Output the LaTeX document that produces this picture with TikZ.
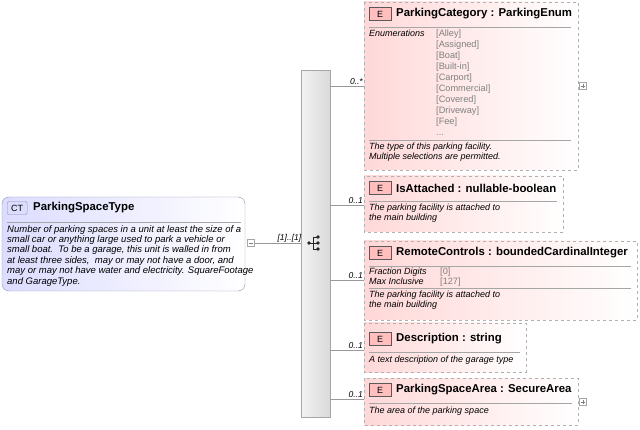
\documentclass[tikz,border=0pt]{standalone}
\usepackage{fontspec}
\setmainfont{Liberation Sans}
\definecolor{ebord}{HTML}{B0B0B0}
\definecolor{ebg}{HTML}{FFD8D8}
\definecolor{ctbg}{HTML}{DCDCFF}
\definecolor{ctb}{HTML}{9090B8}
\definecolor{gtx}{HTML}{808080}
\begin{document}
\begin{tikzpicture}[x=1pt,y=-1pt,
 elem/.style={draw=ebord,dashed,left color=ebg,right color=white,shading angle=90},
 ebadge/.style={draw=gray!70!black,fill=red!25,inner sep=1pt,minimum width=22,minimum height=13,font=\fontsize{9}{10}\selectfont,anchor=west},
 ttl/.style={font=\bfseries\fontsize{11.4}{13}\selectfont,anchor=west,inner sep=0},
 desc/.style={font=\itshape\fontsize{9}{9.6}\selectfont,anchor=north west,inner sep=0,align=left},
 enm/.style={font=\fontsize{9.2}{11}\selectfont,text=gtx,anchor=north west,inner sep=0,align=left},
 card/.style={font=\itshape\fontsize{8.5}{9}\selectfont,anchor=south east,inner sep=1pt},
 conn/.style={draw=gray!80},
 sep/.style={draw=gray!70},
 pm/.style={draw=gray!70,fill=white,minimum size=7,inner sep=0}
]
\useasboundingbox (0,0) rectangle (640,430);
% CT
\draw[draw=ctb,rounded corners=7,left color=ctbg,right color=white] (2,197) rectangle (245,291);
\node[draw=ctb,fill=ctbg,rounded corners=2,inner sep=1pt,minimum width=20,minimum height=13,font=\fontsize{9}{10}\selectfont,anchor=west] (ctb) at (7,208) {CT};
\node[ttl] (ctt) at (33,208) {ParkingSpaceType};
\draw[sep] (7,222) -- (241,222);
\node[desc,font=\itshape\fontsize{9.5}{10.4}\selectfont] (ctd) at (7,225) {Number of parking spaces in a unit at least the size of a\\small car or anything large used to park a vehicle or\\small boat.\ \ To be a garage, this unit is walled in from\\at least three sides,\ \ may or may not have a door, and\\may or may not have water and electricity. SquareFootage\\and GarageType.};
\node[pm] (minus) at (251,243) {};
\draw[gray] (249,243) -- (253,243);
% bar
\node[draw=gray!70,left color=gray!10,right color=gray!30,minimum width=29,minimum height=347,inner sep=0,anchor=north west] (bar) at (301,70) {};
\coordinate (barin) at (301,243);
\draw[conn] (minus) -- node[card,above,pos=0.75,anchor=south]{[1]..[1]} (barin);
% sequence icon
\fill[gray!30!black] (309,243) circle (1.8);
\draw[gray!30!black] (309,243) -- (313,243) (313,237) -- (313,249) (313,237)--(318,237) (313,243)--(318,243) (313,249)--(318,249);
\fill[gray!30!black] (318,237) circle (1.8) (318,243) circle (1.8) (318,249) circle (1.8);
% element boxes
\draw[elem] (364,2) rectangle (578,170);
\draw[elem] (364,176) rectangle (563,232);
\draw[elem] (364,241) rectangle (637,320);
\draw[elem] (364,323) rectangle (526,372);
\draw[elem] (364,378) rectangle (578,425);
\coordinate (e1) at (364,86); \coordinate (e2) at (364,205); \coordinate (e3) at (364,280); \coordinate (e4) at (364,350); \coordinate (e5) at (364,399);
\coordinate (b1) at (330,86); \coordinate (b2) at (330,205); \coordinate (b3) at (330,280); \coordinate (b4) at (330,350); \coordinate (b5) at (330,399);
\draw[conn] (b1) -- (e1) node[card]{0..*};
\draw[conn] (b2) -- (e2) node[card]{0..1};
\draw[conn] (b3) -- (e3) node[card]{0..1};
\draw[conn] (b4) -- (e4) node[card]{0..1};
\draw[conn] (b5) -- (e5) node[card]{0..1};
% 1
\node[ebadge] (eb1) at (369,14) {E};
\node[ttl] at (396,14) {ParkingCategory : ParkingEnum};
\draw[sep] (369,27) -- (571,27);
\node[desc] at (369,30) {Enumerations};
\node[enm] at (436,30) {[Alley]\\{}[Assigned]\\{}[Boat]\\{}[Built-in]\\{}[Carport]\\{}[Commercial]\\{}[Covered]\\{}[Driveway]\\{}[Fee]\\...};
\draw[sep] (369,140) -- (571,140);
\node[desc] at (369,143) {The type of this parking facility.\\Multiple selections are permitted.};
\node[pm] (p1) at (583,86) {};
\draw[gray] (581,86)--(585,86) (583,84)--(583,88);
% 2
\node[ebadge] at (369,188) {E};
\node[ttl] at (396,188) {IsAttached : nullable-boolean};
\draw[sep] (369,201) -- (557,201);
\node[desc] at (369,204) {The parking facility is attached to\\the main building};
% 3
\node[ebadge] at (369,253) {E};
\node[ttl] at (396,253) {RemoteControls : boundedCardinalInteger};
\draw[sep] (369,266) -- (631,266);
\node[desc] at (369,268) {Fraction Digits\\Max Inclusive};
\node[enm,font=\fontsize{9.2}{9.6}\selectfont] at (440,268) {[0]\\{}[127]};
\draw[sep] (369,288) -- (631,288);
\node[desc] at (369,291) {The parking facility is attached to\\the main building};
% 4
\node[ebadge] at (369,339) {E};
\node[ttl] at (396,339) {Description : string};
\draw[sep] (369,352) -- (520,352);
\node[desc] at (369,356) {A text description of the garage type};
% 5
\node[ebadge] at (369,390) {E};
\node[ttl] at (396,390) {ParkingSpaceArea : SecureArea};
\draw[sep] (369,403) -- (572,403);
\node[desc] at (369,407) {The area of the parking space};
\node[pm] (p2) at (583,402) {};
\draw[gray] (581,402)--(585,402) (583,400)--(583,404);
\end{tikzpicture}
\end{document}
